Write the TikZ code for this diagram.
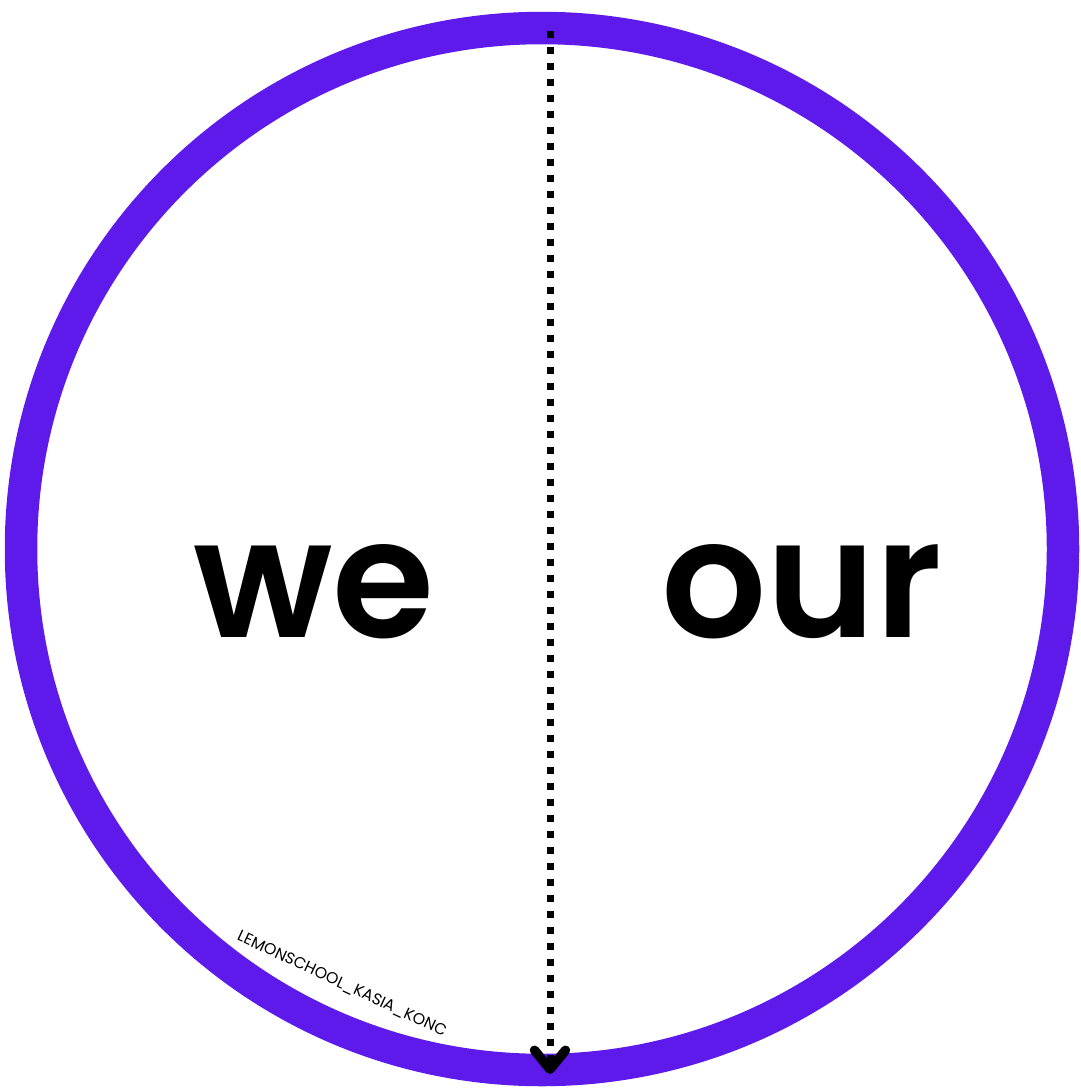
\documentclass[tikz,border=0pt]{standalone}
\usepackage{fontspec}
\usepackage{xcolor}
\usepackage{tikz}
\usetikzlibrary{arrows.meta}
\setmainfont{Poppins}
\newfontfamily\wordfont{Poppins SemiBold}
\definecolor{ringviolet}{RGB}{93,26,235}

\begin{document}
\begin{tikzpicture}[word/.style={anchor=base, inner sep=0pt, font=\wordfont\fontsize{94}{94}\selectfont},
  divider/.style={line width=0.14cm, dash pattern=on 0.14cm off 0.18cm, -{Straight Barb[length=0.38cm, width=0.62cm, line width=0.19cm, round]}}]
  \useasboundingbox (0,0) rectangle (21.62,-21.82);
  \draw[ringviolet, line width=0.65cm] (10.84,-10.98) circle (10.42);
  \node[word] (we) at (6.28,-12.74) {we};
  \node[word] (our) at (16.04,-12.74) {our};
  \coordinate (top) at (11.0,-0.62);
  \coordinate (bottom) at (11.0,-21.48);
  \draw[divider] (top) -- (bottom);
  \node[rotate=-25, inner sep=0pt, font=\fontsize{9}{9}\selectfont] (mark) at (6.84,-19.68) {LEMONSCHOOL\_KASIA\_KONC};
\end{tikzpicture}
\end{document}
